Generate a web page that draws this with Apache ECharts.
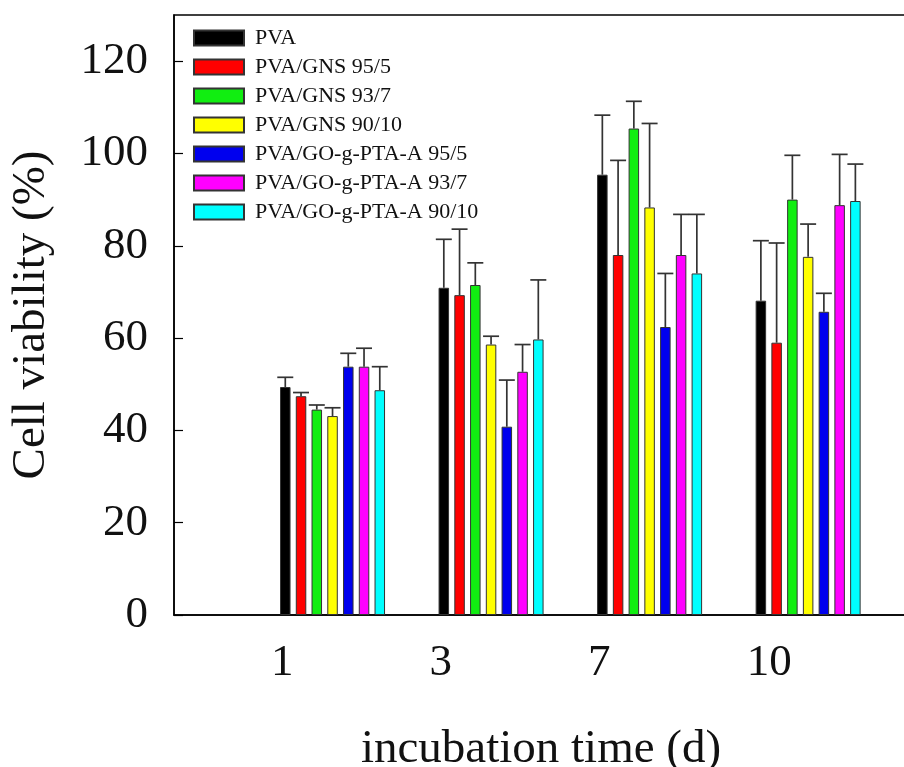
<!DOCTYPE html>
<html>
<head>
<meta charset="utf-8">
<script src="https://cdn.jsdelivr.net/npm/echarts@6/dist/echarts.min.js"></script>
<style>
html,body{margin:0;padding:0;background:#fff;}
#chart{width:904px;height:767px;}
</style>
</head>
<body>
<div id="chart"></div>
<script>
// ---- data ----
var categories = ['1', '3', '7', '10'];
var seriesNames = ['PVA', 'PVA/GNS 95/5', 'PVA/GNS 93/7', 'PVA/GNS 90/10',
  'PVA/GO-g-PTA-A 95/5', 'PVA/GO-g-PTA-A 93/7', 'PVA/GO-g-PTA-A 90/10'];
var colors = ['#000000', '#ff0000', '#11ee11', '#ffff00', '#0000ee', '#ff00ff', '#00ffff'];

var pva        = [49.4, 70.9, 95.4, 68.1];
var gns95      = [47.4, 69.3, 78.0, 59.0];
var gns93      = [44.5, 71.5, 105.4, 90.0];
var gns90      = [43.1, 58.6, 88.3, 77.6];
var go95       = [53.8, 40.8, 62.4, 65.7];
var go93       = [53.8, 52.7, 78.0, 88.8];
var go90       = [48.7, 59.7, 74.0, 89.7];

var pvaErr     = [2.1, 10.5, 12.9, 13.0];
var gns95Err   = [0.8, 14.3, 20.5, 21.6];
var gns93Err   = [1.0, 4.8, 5.9, 9.6];
var gns90Err   = [1.8, 1.8, 18.2, 7.1];
var go95Err    = [2.9, 10.1, 11.6, 4.0];
var go93Err    = [4.0, 5.9, 8.8, 11.0];
var go90Err    = [5.1, 12.9, 12.8, 8.0];

var yTicks = [0, 20, 40, 60, 80, 100, 120];

var values = [pva, gns95, gns93, gns90, go95, go93, go90];
var errors = [pvaErr, gns95Err, gns93Err, gns90Err, go95Err, go93Err, go90Err];

// ---- style constants ----
var FONT = "'Liberation Serif','Times New Roman',serif";
var BAR_W = 10.5;
var GAP = 0.5;             // barGap as ratio of bar width
var PITCH = BAR_W * (1 + GAP);
var XMAX = 4.63;

var series = [];
values.forEach(function (arr, s) {
  series.push({
    name: seriesNames[s],
    type: 'bar',
    xAxisIndex: 0, yAxisIndex: 0,
    barWidth: BAR_W,
    barGap: (GAP * 100) + '%',
    itemStyle: { color: colors[s], borderColor: '#333', borderWidth: 1 },
    data: arr.map(function (v, i) { return [i + 1, v]; }),
    z: 2
  });
});

var errData = [];
values.forEach(function (arr, s) {
  arr.forEach(function (v, i) { errData.push([i + 1, v, errors[s][i], s]); });
});

series.push({
  type: 'custom',
  name: 'err',
  xAxisIndex: 0, yAxisIndex: 0,
  z: 3,
  renderItem: function (params, api) {
    var x = api.value(0), y = api.value(1), e = api.value(2), s = api.value(3);
    var base = api.coord([x, y]);
    var top = api.coord([x, y + e]);
    var cx = base[0] + (s - (values.length - 1) / 2) * PITCH;
    var st = { stroke: '#333', lineWidth: 1.7 };
    return {
      type: 'group',
      children: [
        { type: 'line', shape: { x1: cx, y1: base[1], x2: cx, y2: top[1] }, style: st },
        { type: 'line', shape: { x1: cx - 8, y1: top[1], x2: cx + 8, y2: top[1] }, style: st }
      ]
    };
  },
  encode: { x: 0, y: 1 },
  data: errData,
  silent: true
});

var chart = echarts.init(document.getElementById('chart'), null, { renderer: 'canvas' });
chart.setOption({
  animation: false,
  backgroundColor: '#ffffff',
  textStyle: { fontFamily: FONT },
  grid: [
    { left: 174, top: 15, right: -4, bottom: 152, show: true, borderColor: '#000', borderWidth: 1.5,
      containLabel: false, outerBoundsMode: 'none' },
    { left: 112.5, top: 15, right: 57.5, bottom: 152, show: false,
      containLabel: false, outerBoundsMode: 'none' }
  ],
  legend: {
    data: seriesNames,
    orient: 'vertical',
    left: 193, top: 27,
    padding: 0,
    itemWidth: 50, itemHeight: 15, itemGap: 7,
    icon: 'rect',
    textStyle: { fontFamily: FONT, fontSize: 22, color: '#111', padding: [0, 0, 0, 6] }
  },
  xAxis: [
    {
      type: 'value', gridIndex: 0, min: 0, max: XMAX,
      name: 'incubation time (d)', nameLocation: 'middle', nameGap: 111,
      nameTextStyle: { fontFamily: FONT, fontSize: 47, color: '#111' },
      axisLine: { show: true, lineStyle: { color: '#000', width: 1.5 } },
      axisTick: { show: false }, axisLabel: { show: false }, splitLine: { show: false }
    },
    {
      type: 'value', gridIndex: 1, min: 0, max: XMAX, interval: 1,
      axisLine: { show: false }, axisTick: { show: false }, splitLine: { show: false },
      axisLabel: {
        show: true, margin: 26, align: 'left', showMaxLabel: false,
        fontFamily: FONT, fontSize: 45, color: '#111',
        formatter: function (v) {
          var k = Math.round(v);
          if (Math.abs(v - k) > 1e-6 || k < 1 || k > categories.length) return '';
          return categories[k - 1];
        }
      }
    }
  ],
  yAxis: [
    {
      type: 'value', gridIndex: 0, min: 0, max: 130, interval: 20,
      name: 'Cell viability (%)', nameLocation: 'middle', nameGap: 119,
      nameTextStyle: { fontFamily: FONT, fontSize: 47, color: '#111' },
      axisLine: { show: true, lineStyle: { color: '#000', width: 1.5 } },
      axisTick: { show: true, inside: true, length: 9, lineStyle: { color: '#000', width: 1.2 } },
      splitLine: { show: false },
      axisLabel: {
        margin: 26, fontFamily: FONT, fontSize: 45, color: '#111', showMaxLabel: false,
        formatter: function (v) { return yTicks.indexOf(v) >= 0 ? String(v) : ''; }
      }
    },
    {
      type: 'value', gridIndex: 1, min: 0, max: 130, show: false
    }
  ],
  series: series
});
</script>
</body>
</html>
